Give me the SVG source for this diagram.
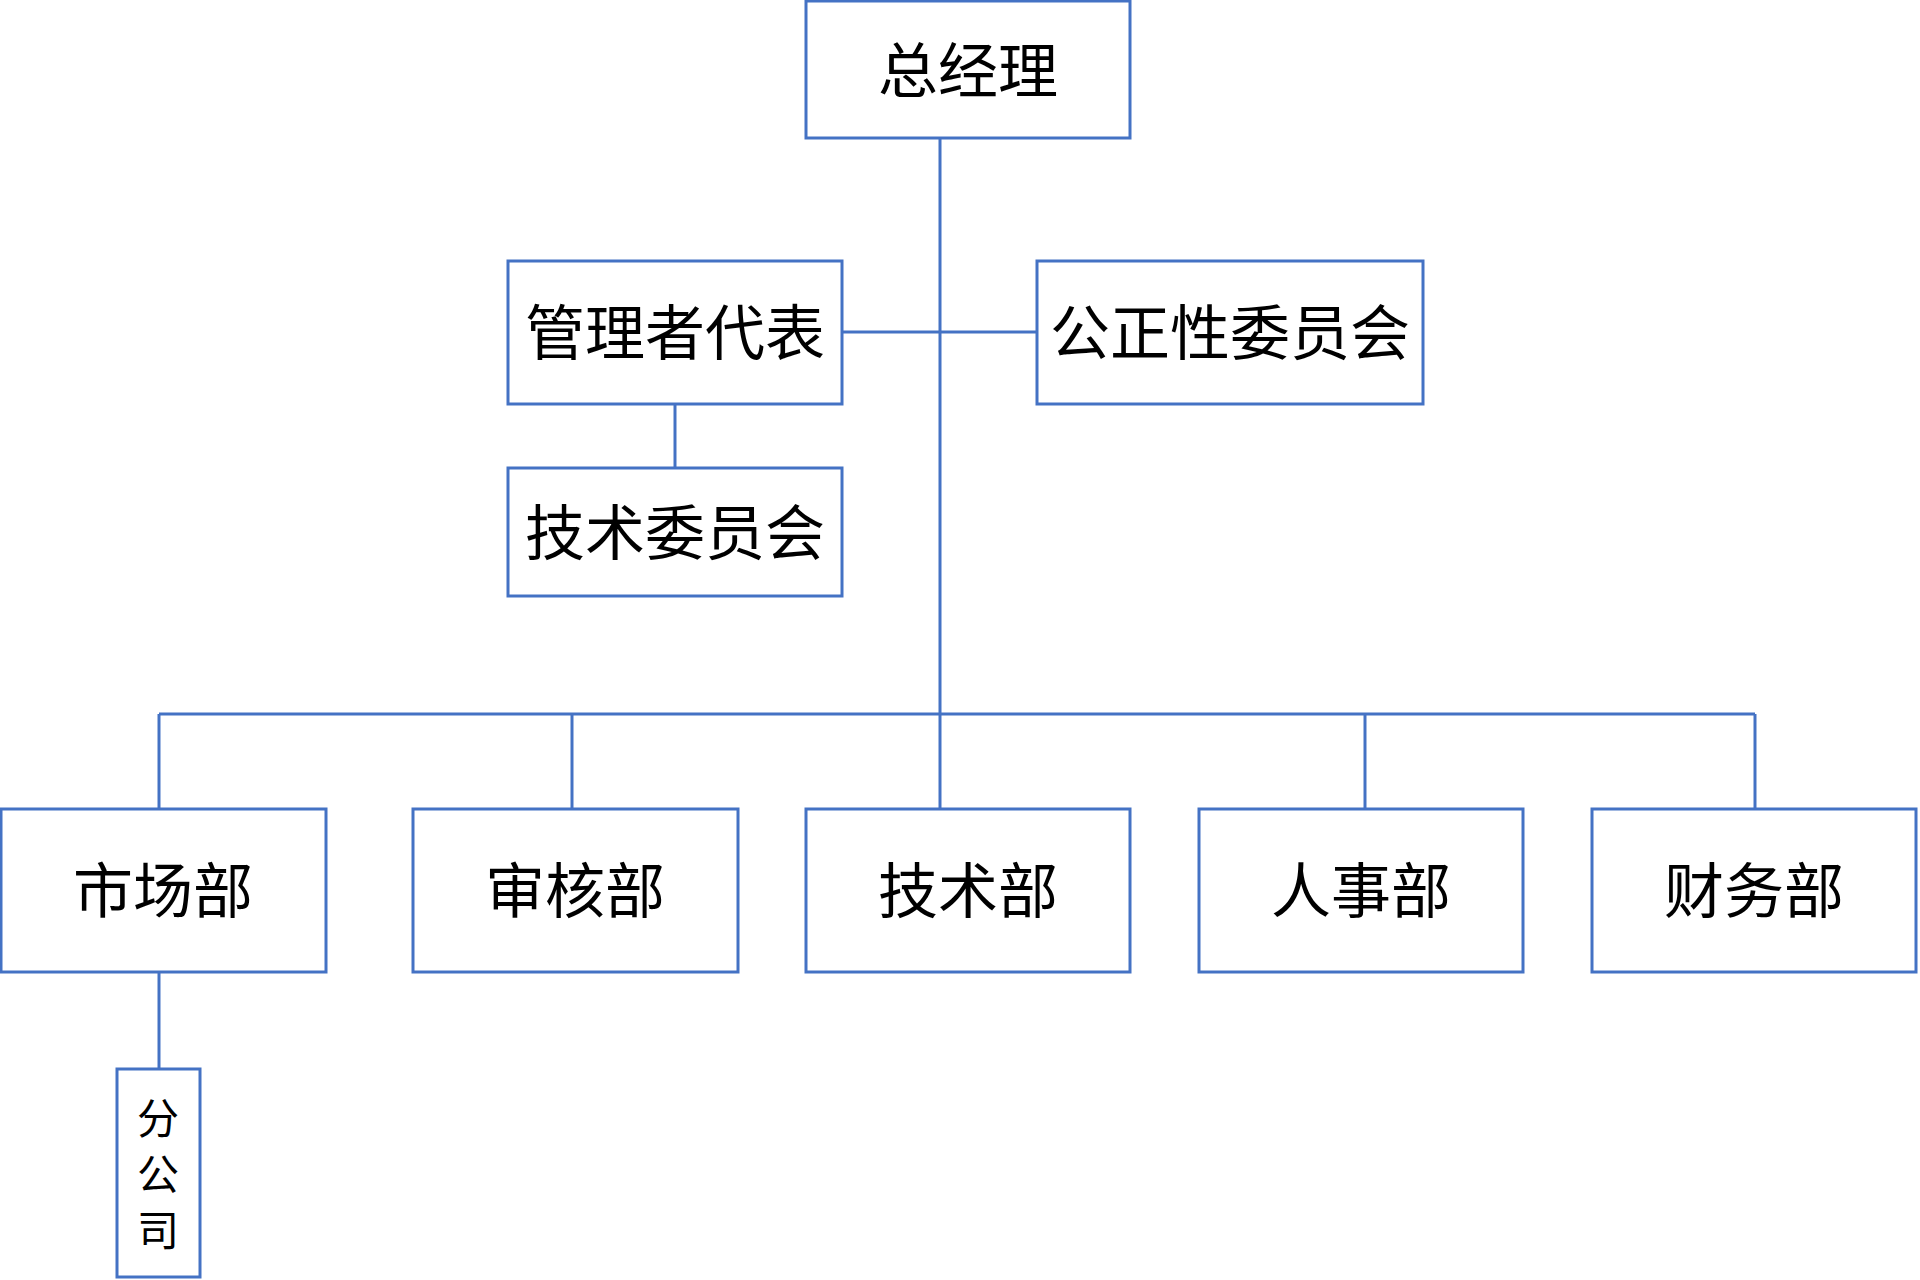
<svg xmlns="http://www.w3.org/2000/svg" width="1920" height="1280" viewBox="0 0 1920 1280">
<style>
rect{fill:#fff;stroke:#4472C4;stroke-width:3}
line{stroke:#4472C4;stroke-width:3}
text{font-family:"Noto Sans CJK SC",sans-serif;font-size:60px;fill:#000;text-anchor:middle;dominant-baseline:central}
.v{font-size:42px}
</style>
<rect width="1920" height="1280" style="stroke:none"/>
<g id="connectors">
<line x1="940" y1="138" x2="940" y2="714"/>
<line x1="842" y1="332" x2="1037" y2="332"/>
<line x1="675" y1="404" x2="675" y2="468"/>
<line x1="159" y1="714" x2="1755" y2="714"/>
<line x1="159" y1="714" x2="159" y2="809"/>
<line x1="572" y1="714" x2="572" y2="809"/>
<line x1="940" y1="714" x2="940" y2="809"/>
<line x1="1365" y1="714" x2="1365" y2="809"/>
<line x1="1755" y1="714" x2="1755" y2="809"/>
<line x1="159" y1="972" x2="159" y2="1069"/>
</g>
<g id="n1"><rect x="806" y="1" width="324" height="137"/><text x="968" y="66">总经理</text></g>
<g id="n2"><rect x="508" y="261" width="334" height="143"/><text x="675" y="328">管理者代表</text></g>
<g id="n3"><rect x="1037" y="261" width="386" height="143"/><text x="1230" y="328">公正性委员会</text></g>
<g id="n4"><rect x="508" y="468" width="334" height="128"/><text x="675" y="528">技术委员会</text></g>
<g id="n5"><rect x="1" y="809" width="325" height="163"/><text x="163" y="886">市场部</text></g>
<g id="n6"><rect x="413" y="809" width="325" height="163"/><text x="575" y="886">审核部</text></g>
<g id="n7"><rect x="806" y="809" width="324" height="163"/><text x="968" y="886">技术部</text></g>
<g id="n8"><rect x="1199" y="809" width="324" height="163"/><text x="1361" y="886">人事部</text></g>
<g id="n9"><rect x="1592" y="809" width="324" height="163"/><text x="1754" y="886">财务部</text></g>
<g id="n10"><rect x="117" y="1069" width="83" height="208"/>
<text class="v" x="158" y="1115">分</text>
<text class="v" x="158" y="1171">公</text>
<text class="v" x="158" y="1227">司</text></g>
</svg>
